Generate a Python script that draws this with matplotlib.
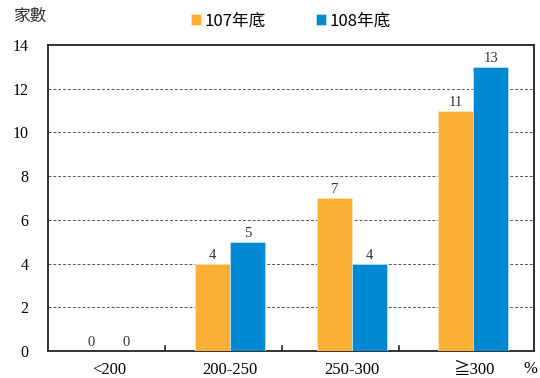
import matplotlib
matplotlib.use("Agg")
import matplotlib.pyplot as plt
import numpy as np

categories = ["<200", "200-250", "250-300", "≧300"]
series_names = ["107年底", "108年底"]
values_107 = [0, 4, 7, 11]
values_108 = [0, 5, 4, 13]
y_ticks = [0, 2, 4, 6, 8, 10, 12, 14]

orange = "#FBAF34"
blue = "#0089D2"
serif = ["Liberation Serif", "DejaVu Serif", "Noto Sans CJK TC"]
cjk = ["Noto Sans CJK TC", "DejaVu Sans"]

fig = plt.figure(figsize=(5.4, 3.78), dpi=100)
ax = fig.add_axes([48 / 540, 27 / 378, 486 / 540, 306 / 378])

x = np.arange(len(categories))
w = 0.29
b1 = ax.bar(x - w / 2, values_107, w, color=orange, edgecolor="#FDE3B8", linewidth=0.6,
            label=series_names[0], zorder=3)
b2 = ax.bar(x + w / 2, values_108, w, color=blue, edgecolor="#B8E0F5", linewidth=0.6,
            label=series_names[1], zorder=3)

for bars in (b1, b2):
    for r in bars:
        ax.text(r.get_x() + r.get_width() / 2, r.get_height() + 0.08, f"{int(r.get_height())}",
                ha="center", va="bottom", fontsize=10.5, family=serif, color="#333333")

ax.set_xlim(-0.5, 3.5)
ax.set_ylim(0, 14)
ax.set_yticks(y_ticks)
ax.set_yticklabels([str(v) for v in y_ticks], family=serif, fontsize=11.5)
for v in y_ticks[1:-1]:
    ax.axhline(v, color="#555555", linestyle=(0, (3, 2)), linewidth=0.7, zorder=1)

# category labels under bars, tick marks between groups
ax.set_xticks(x)
ax.set_xticklabels(categories, family=serif, fontsize=12)
ax.tick_params(axis="x", length=0, pad=8)
ax.tick_params(axis="y", length=0, pad=14)
for b in [0.46, 1.43, 2.39]:
    ax.plot([b, b], [0, 0.25], color="#222222", linewidth=1.2, zorder=4)

for s in ax.spines.values():
    s.set_color("#222222")
    s.set_linewidth(1.3)

fig.text(14 / 540, 1 - 16 / 378, "家數", family=cjk, fontsize=12, va="center", ha="left",
         color="#333333")
fig.text(530 / 540, 1 - 369 / 378, "%", family=serif, fontsize=12, va="center", ha="center")

leg = ax.legend(loc="center", bbox_to_anchor=(0.5, (378 - 21 - 27) / 306), ncol=2, frameon=False,
                prop={"family": cjk, "size": 12}, handlelength=0.6, handleheight=0.6,
                handletextpad=0.2, columnspacing=3.0)

fig.savefig("out.png", dpi=100)
